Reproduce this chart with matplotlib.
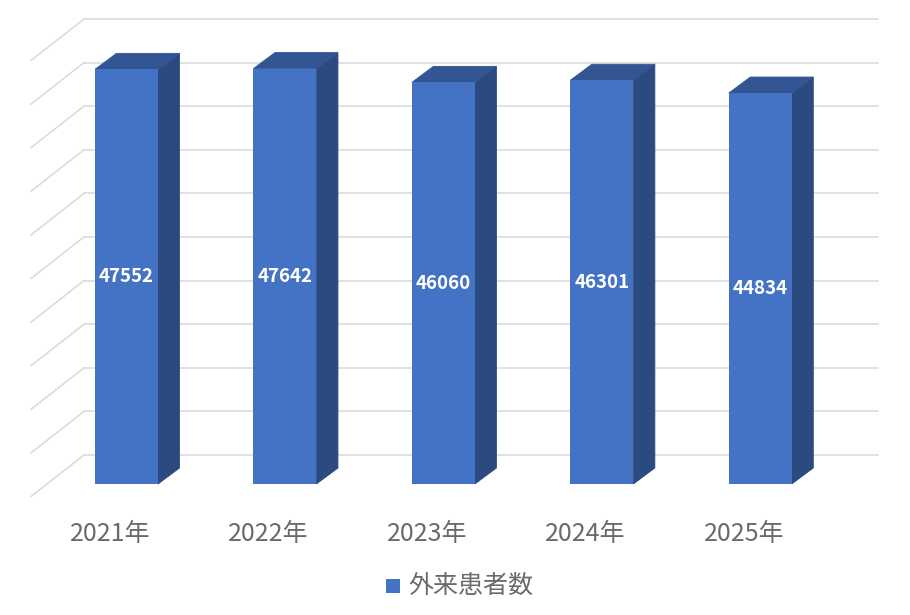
import matplotlib
matplotlib.use("Agg")
import matplotlib.pyplot as plt
from matplotlib.patches import Polygon, Rectangle

plt.rcParams["font.family"] = ["Noto Sans CJK JP", "DejaVu Sans"]

years = ["2021年", "2022年", "2023年", "2024年", "2025年"]
patients = [47552, 47642, 46060, 46301, 44834]
grid_values = [0, 5000, 10000, 15000, 20000, 25000, 30000, 35000, 40000, 45000, 50000]
series_name = "外来患者数"

PX_PER_CAT = 158.45
PX_PER_VAL = 0.00872
X0_PX = 126.5
Y0_PX = 484

BAR_W = 63 / PX_PER_CAT
DEPTH_X = 21.5 / PX_PER_CAT
DEPTH_Y = 16 / PX_PER_VAL
WALL_X = 53 / PX_PER_CAT
WALL_Y = 41.5 / PX_PER_VAL
WALL_SHIFT_X = (84 - X0_PX) / PX_PER_CAT
WALL_SHIFT_Y = 29 / PX_PER_VAL
WALL_RIGHT = (878 - X0_PX) / PX_PER_CAT

FRONT = "#4472C4"
SIDE = "#2A4A80"
TOP = "#335593"
GRID = "#D9D9D9"
TEXT = "#6A6A6A"

fig = plt.figure(figsize=(9.1, 6.15), dpi=100)
ax = fig.add_axes([0, 0, 1, 1])
ax.set_xlim(-X0_PX / PX_PER_CAT, (910 - X0_PX) / PX_PER_CAT)
ax.set_ylim((Y0_PX - 615) / PX_PER_VAL, Y0_PX / PX_PER_VAL)
ax.axis("off")

# back wall and side wall gridlines
for v in grid_values:
    y = v + WALL_SHIFT_Y
    ax.plot([WALL_SHIFT_X, WALL_RIGHT], [y, y], color=GRID, lw=1.1, zorder=1)
    ax.plot([WALL_SHIFT_X, WALL_SHIFT_X - WALL_X], [y, y - WALL_Y], color=GRID, lw=1.1, zorder=1)

# 3d bars, side and top get a thin edge so no white seam shows next to the front face
for i, v in enumerate(patients):
    left = i - BAR_W / 2
    right = i + BAR_W / 2
    ax.add_patch(Polygon([(right, 0), (right + DEPTH_X, DEPTH_Y), (right + DEPTH_X, v + DEPTH_Y), (right, v)],
                         facecolor=SIDE, edgecolor=SIDE, lw=0.6, zorder=2))
    ax.add_patch(Polygon([(left, v), (right, v), (right + DEPTH_X, v + DEPTH_Y), (left + DEPTH_X, v + DEPTH_Y)],
                         facecolor=TOP, edgecolor=TOP, lw=0.6, zorder=2.5))
    ax.add_patch(Rectangle((left, 0), BAR_W, v, facecolor=FRONT, edgecolor="none", zorder=3))
    ax.text(i, v / 2, str(v), color="white", fontsize=13.5, fontweight="bold",
            ha="center", va="center", zorder=4)
    ax.text(i + (110 - X0_PX) / PX_PER_CAT, (Y0_PX - 534) / PX_PER_VAL, years[i], color=TEXT,
            fontsize=18, ha="center", va="center")

# legend
fig.patches.append(Rectangle((386 / 910, 1 - 593 / 615), 14 / 910, 14 / 615, transform=fig.transFigure,
                             facecolor=FRONT, edgecolor="none"))
fig.text(408 / 910, 1 - 586 / 615, series_name, color=TEXT, fontsize=18, ha="left", va="center")

fig.savefig("out.png", dpi=100)
